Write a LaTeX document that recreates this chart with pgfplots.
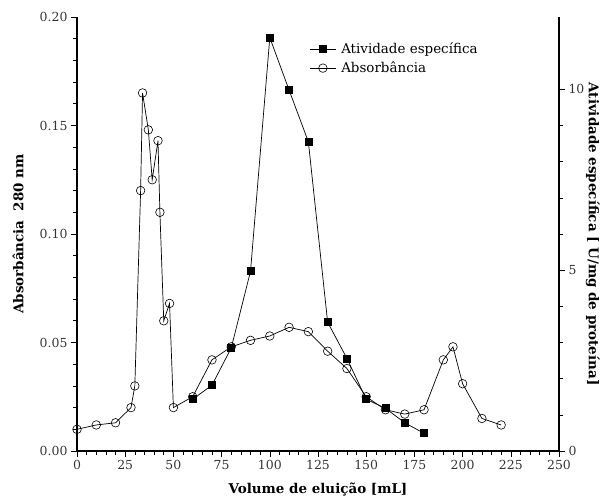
\documentclass[border=0pt]{standalone}
\usepackage{fontspec}
\setmainfont{DejaVu Serif}
\usepackage{pgfplots}
\pgfplotsset{compat=1.18}
\begin{document}
\begin{tikzpicture}
\pgfplotsset{
  common/.style={
    scale only axis, width=482bp, height=434bp,
    xmin=0, xmax=250,
    tick align=outside,
    major tick length=6bp, minor tick length=4bp,
    tick style={black, line width=0.6bp},
    axis line style={-, line width=1.3bp},
    tick label style={font=\fontsize{12.5}{14}\selectfont, text=black!80},
    label style={font=\bfseries\fontsize{13.5}{15}\selectfont},
    /pgf/number format/assume math mode=true,
  },
  legend image code/.code={
    \draw[mark repeat=2, mark phase=2] plot coordinates {(0bp,0bp) (13bp,0bp) (26bp,0bp)};
  },
}
% left axis: absorbance
\begin{axis}[common, name=ax,
  axis x line*=bottom, axis y line*=left,
  ymin=0, ymax=0.2,
  xtick={0,25,50,75,100,125,150,175,200,225,250}, minor x tick num=4,
  ytick={0,0.05,0.1,0.15,0.2}, minor y tick num=4,
  yticklabel style={/pgf/number format/fixed, /pgf/number format/fixed zerofill,
                    /pgf/number format/precision=2},
  xlabel={Volume de eluição [mL]},
  xlabel style={at={(axis description cs:0.5,-0.097)}, anchor=base},
  ylabel={Absorbância\ \ 280 nm},
  ylabel style={at={(axis description cs:-0.122,0.5)}, anchor=center},
]
\addplot[black, line width=0.7bp, mark=o, mark size=4.3bp,
         mark options={fill=white, line width=0.6bp}]
  coordinates {
  (0,0.010) (10,0.012) (20,0.013) (28,0.020) (30,0.030) (33,0.120)
  (34,0.165) (37,0.148) (39,0.125) (42,0.143) (43,0.110) (45,0.060)
  (48,0.068) (50,0.020) (60,0.025) (70,0.042) (80,0.048) (90,0.051)
  (100,0.053) (110,0.057) (120,0.055) (130,0.046) (140,0.038) (150,0.025)
  (160,0.019) (170,0.017) (180,0.019) (190,0.042) (195,0.048) (200,0.031)
  (210,0.015) (220,0.012)
  };
\end{axis}
% right axis: specific activity
\begin{axis}[common,
  axis x line=none, axis y line*=right,
  ymin=0, ymax=12,
  ytick={0,5,10}, minor y tick num=4,
  ylabel={Atividade específica [ U/mg de proteína]},
  ylabel style={at={(axis description cs:1.07,0.5)}, anchor=center, rotate=180},
  legend style={draw=none, fill=none, at={(0.48,0.948)}, anchor=north west,
                font=\fontsize{13.5}{15}\selectfont, row sep=3bp,
                column sep=3bp, inner sep=1bp},
  legend cell align=left,
]
\addplot[black, line width=0.7bp, mark=square*, mark size=3.5bp]
  coordinates {
  (60,1.43) (70,1.82) (80,2.85) (90,4.97) (100,11.43) (110,9.98)
  (120,8.55) (130,3.56) (140,2.56) (150,1.43) (160,1.18) (170,0.78)
  (180,0.49)
  };
\addlegendentry{Atividade específica}
\addlegendimage{black, line width=0.7bp, mark=o, mark size=4.3bp,
                mark options={fill=white, line width=0.6bp}}
\addlegendentry{Absorbância}
\end{axis}
\pgfresetboundingbox
\path[use as bounding box] (ax.south west) ++(-77bp,-49bp) rectangle ++(606bp,500bp);
\end{tikzpicture}
\end{document}
